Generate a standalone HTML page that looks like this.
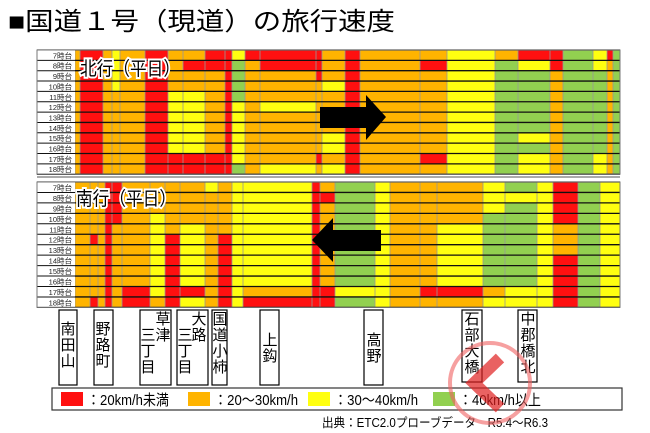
<!DOCTYPE html>
<html><head><meta charset="utf-8">
<style>
html,body{margin:0;padding:0;background:#fff;width:650px;height:433px;overflow:hidden}
svg{display:block}
text{font-family:"Liberation Sans","Noto Sans CJK JP",sans-serif}
</style></head><body>
<svg id="s" width="650" height="433" xmlns="http://www.w3.org/2000/svg">
<text x="8" y="30" font-size="25" fill="#000" textLength="387" lengthAdjust="spacingAndGlyphs">■国道１号（現道）の旅行速度</text>
<g id="gtop"></g><g id="gbot"></g>
<g id="over"></g>
</svg>
<script>
(function(){
const C={R:'#ff1010',O:'#ffb400',Y:'#ffff10',G:'#92d050'};
function ov(rows,c){const o={};rows.forEach(r=>o[r]=c);return o}
function m(...a){return Object.assign({},...a)}
const segT=[
[75,80,'O'],[80,103,'R'],[103,112,'O'],[112,120,'O',ov([0,1,2,3],'Y')],[120,145,'O'],[145,168,'R'],
[168,183,'O',m(ov([4,5,6,7,8,9],'Y'),ov([10,11],'R'))],
[183,205,'Y',m(ov([0,2,3],'O'),ov([1,10,11],'R'))],
[205,225,'O',ov([0,1,10,11],'R')],[225,232,'R'],[232,245,'Y',ov([1,2,3,4,11],'G')],
[245,260,'O',ov([0],'R')],[260,316,'O',m(ov([0,1],'R'),ov([5,11],'Y'))],
[316,322,'O',ov([0,1,2,10],'R')],[322,345,'O',ov([3,8,9,11],'Y')],[345,360,'R'],
[360,420,'O'],[420,447,'O',ov([1,10],'R')],[447,495,'Y'],[495,518,'G',ov([0],'O')],
[518,550,'G',m(ov([0],'R'),ov([1,8,10,11],'Y'))],[550,563,'O',ov([0,1],'R')],[563,593,'G'],
[593,607,'G',ov([0,1,10,11],'Y')],[607,613,'O',ov([0],'R')],[613,620,'G']];
const segB=[
[75,90,'O'],[90,98,'O',ov([5,11],'R')],[98,105,'O'],[105,112,'R'],[112,122,'O',ov([0,1,2,3],'R')],
[122,150,'O',ov([10,11],'R')],[150,165,'Y',ov([0,1,2,11],'O')],[165,180,'R',ov([0,1,2,3,4],'O')],
[180,205,'Y',m(ov([0,1,2,3],'O'),ov([10],'R'))],[205,218,'O',ov([0],'Y')],[218,232,'R',ov([0,1,2,3,4],'O')],
[232,243,'Y'],[243,312,'Y',m(ov([11],'R'),ov([10],'O'))],[312,320,'R'],
[320,335,'O',ov([1,10,11],'R')],[335,375,'G',ov([10],'Y')],[375,390,'Y'],[390,420,'O'],
[420,437,'O',ov([10],'R')],[437,483,'O',m(ov([4,5,6,7,8,9],'Y'),ov([10],'R'))],
[483,505,'Y',m(ov([3,4,5,6,7,8,9],'G'),ov([10],'O'))],[505,537,'G',ov([1,10,11],'Y')],
[537,553,'Y'],[553,578,'R',ov([4,5,6],'O')],[578,600,'G'],[600,620,'Y']];
const NS='http://www.w3.org/2000/svg';
function el(p,t,a,txt){const e=document.createElementNS(NS,t);for(const k in a)e.setAttribute(k,a[k]);if(txt)e.textContent=txt;p.appendChild(e);return e}
function panel(g,segs,y0,rh){
 for(const s of segs){for(let r=0;r<12;r++){const c=(s[3]&&s[3][r])||s[2];el(g,'rect',{x:s[0],y:y0+r*rh,width:s[1]-s[0],height:rh,fill:C[c]})}
  el(g,'line',{x1:s[0],x2:s[0],y1:y0,y2:y0+12*rh,stroke:'#999','stroke-width':0.8})}
 for(let r=0;r<=12;r++){el(g,'line',{x1:37,x2:620,y1:y0+r*rh,y2:y0+r*rh,stroke:'#111','stroke-width':1.3})}
 el(g,'rect',{x:37,y:y0,width:38,height:12*rh,fill:'#fff'});
 for(let r=0;r<12;r++){el(g,'text',{x:72,y:y0+r*rh+rh-2,'font-size':7.5,'text-anchor':'end',fill:'#222'},(7+r)+'時台');
  el(g,'line',{x1:37,x2:75,y1:y0+r*rh+rh,y2:y0+r*rh+rh,stroke:'#111','stroke-width':1})}
 el(g,'rect',{x:37,y:y0,width:583,height:12*rh,fill:'none',stroke:'#777','stroke-width':1});
}
panel(document.getElementById('gtop'),segT,50,10.35);
panel(document.getElementById('gbot'),segB,182,10.45);
const o=document.getElementById('over');
el(o,'line',{x1:37,x2:620,y1:177,y2:177,stroke:'#555','stroke-width':1});
el(o,'polygon',{points:'320,107 366,107 366,95 386,117 366,140 366,128 320,128',fill:'#000'});
el(o,'polygon',{points:'381,230 333,230 333,218 312,240 333,262 333,251 381,251',fill:'#000'});
const lab=(x,y,t)=>{el(o,'text',{x:x,y:y,'font-size':19,fill:'#000',stroke:'#fff','stroke-width':4,'paint-order':'stroke',textLength:100,lengthAdjust:'spacingAndGlyphs'},t)};
lab(80,75,'北行（平日）');lab(76,205,'南行（平日）');
function box(x0,x1,y1,cols){el(o,'rect',{x:x0,y:310,width:x1-x0,height:y1-310,fill:'#fff',stroke:'#000','stroke-width':1.2});
 for(const c of cols){c[2].split('').forEach((ch,i)=>el(o,'text',{x:c[0],y:c[1]+i*16,'font-size':15,'text-anchor':'middle',fill:'#000'},ch))}}
box(59,77,385,[[68,334,'南田山']]);
box(94,113,385,[[103,334,'野路町']]);
box(140,171,385,[[163,324,'草津'],[148,340,'三丁目']]);
box(177,208,385,[[199,324,'大路'],[185,340,'三丁目']]);
box(212,227,385,[[220,324,'国道小柿']]);
box(260,279,385,[[270,345,'上鈎']]);
box(364,383,385,[[374,345,'高野']]);
box(462,482,382,[[472,324,'石部大橋']]);
box(518,537,382,[[528,324,'中郡橋北']]);
el(o,'rect',{x:52,y:388,width:570,height:22,fill:'#fff',stroke:'#333','stroke-width':1.2});
[[61,'R','：20km/h未満',82],[188,'O','：20～30km/h',84],[308,'Y','：30～40km/h',84],[433,'G','：40km/h以上',82]].forEach(a=>{
 el(o,'rect',{x:a[0],y:392,width:22,height:14,fill:C[a[1]]});
 el(o,'text',{x:a[0]+26,y:405,'font-size':15,fill:'#000',textLength:a[3],lengthAdjust:'spacingAndGlyphs'},a[2]);});
el(o,'text',{x:322,y:427,'font-size':12.5,fill:'#000',textLength:226,lengthAdjust:'spacingAndGlyphs'},'出典：ETC2.0プローブデータ　R5.4～R6.3');
el(o,'circle',{cx:490,cy:383,r:40,fill:'none',stroke:'#f06060','stroke-width':4,opacity:0.6});
el(o,'polyline',{points:'500,358 474,383 500,408',fill:'none',stroke:'#e02020','stroke-width':12,opacity:0.7});
})();
</script>
</body></html>
